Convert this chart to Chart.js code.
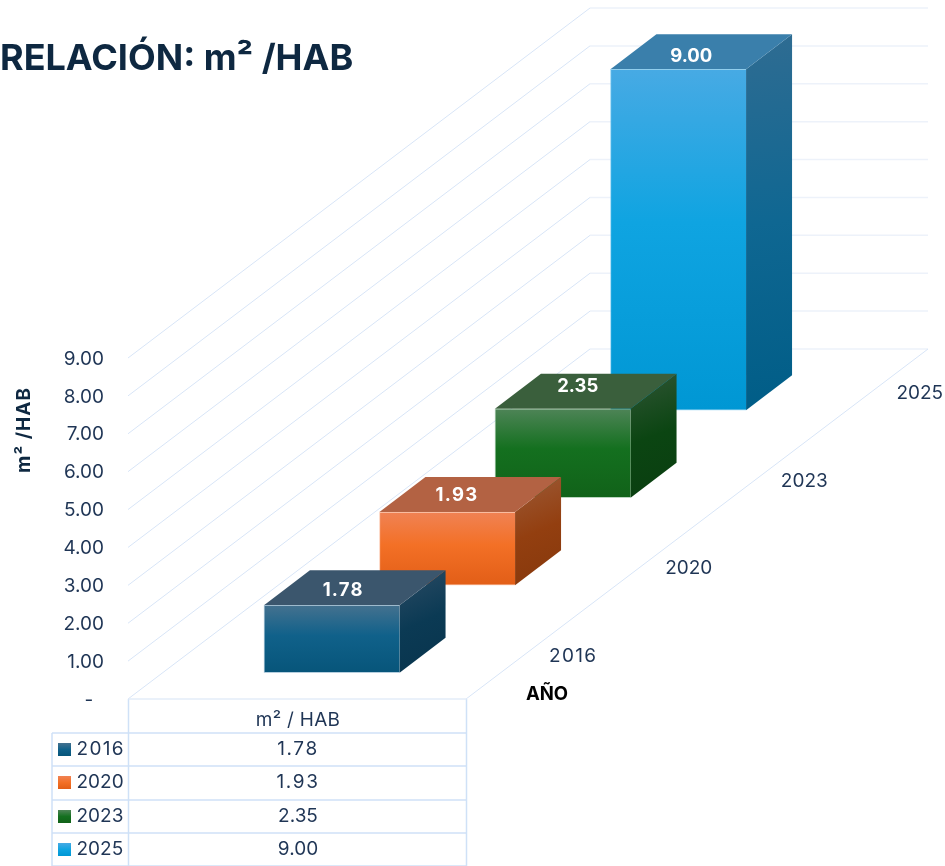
<!DOCTYPE html>
<html lang="es">
<head>
<meta charset="utf-8">
<title>RELACIÓN: m² /HAB</title>
<script src="https://cdn.jsdelivr.net/npm/chart.js@4"></script>
<style>
html,body{margin:0;padding:0;background:#fff;overflow:hidden}
canvas{display:block}
</style>
</head>
<body>
<canvas id="c" width="945" height="866"></canvas>
<script>
const categories = ['2016', '2020', '2023', '2025'];
const values = [1.78, 1.93, 2.35, 9.00];
const yTickLabels = ['-  ', '1.00', '2.00', '3.00', '4.00', '5.00', '6.00', '7.00', '8.00', '9.00'];
const chartTitle = 'RELACIÓN: m² /HAB';
const yAxisTitle = 'm² /HAB';
const xAxisTitle = 'AÑO';
const tableHeader = 'm² / HAB';

const frontStops = [
  ['#44718f', '#10618a', '#07557a'],
  ['#f08254', '#f37026', '#e25e17'],
  ['#4e8457', '#14701f', '#116219'],
  ['#47aae4', '#0fa4e1', '#0097d4']
];
const sideStops = [
  ['#2b4b64', '#0b3a54', '#08344d'],
  ['#9c5a37', '#933f10', '#86380c'],
  ['#305535', '#0b4512', '#0a3e10'],
  ['#2f6c92', '#0f6792', '#005d87']
];
const topColors = ['#3b566d', '#b36243', '#3a5f3c', '#3a7fab'];
const edgeColors = ['rgba(120,165,195,.55)', 'rgba(250,170,130,.55)', 'rgba(130,180,140,.55)', 'rgba(120,200,240,.7)'];
const labelNudgeX = [11.5, 9.7, 15, 13];
const labelNudgeY = [-15, -17, -22, -12.5];

const FONT = 'Inter, "Noto Sans", sans-serif';
const INK = '#1f3555';
const GRID = { depthX: 462, depthY: 350, floorW: 338, barDX: 46, barDY: 35 };

function placement(chart, bar) {
  const left = chart.chartArea.left;
  const depth = bar.x - left;
  return {
    dx: GRID.floorW / 2 - GRID.barDX / 2,
    dy: -depth * GRID.depthY / GRID.depthX + GRID.barDY / 2
  };
}

function spaced(ctx, s, amount) {
  ctx.letterSpacing = s.includes('1') ? amount + 'px' : '0px';
}

const prism3d = {
  id: 'prism3d',
  beforeDatasetsDraw(chart) {
    const { ctx, chartArea: a, scales: { y } } = chart;
    ctx.save();
    y.ticks.forEach((t) => {
      const py = y.getPixelForValue(t.value);
      ctx.lineWidth = 1;
      ctx.strokeStyle = '#d8e5f7';
      ctx.beginPath();
      ctx.moveTo(a.left, py);
      ctx.lineTo(a.left + GRID.depthX, py - GRID.depthY);
      ctx.stroke();
      ctx.lineWidth = 1.5;
      ctx.strokeStyle = '#edf2fa';
      ctx.beginPath();
      ctx.moveTo(a.left + GRID.depthX, py - GRID.depthY);
      ctx.lineTo(a.left + GRID.depthX + GRID.floorW, py - GRID.depthY);
      ctx.stroke();
    });
    const y0 = y.getPixelForValue(0);
    ctx.lineWidth = 1;
    ctx.strokeStyle = '#d8e5f7';
    ctx.beginPath();
    ctx.moveTo(a.left + GRID.floorW, y0);
    ctx.lineTo(a.left + GRID.floorW + GRID.depthX, y0 - GRID.depthY);
    ctx.stroke();
    ctx.restore();
  },
  beforeDatasetDraw(chart, args) {
    const bar = chart.getDatasetMeta(args.index).data[args.index];
    const { ctx } = chart;
    const p = placement(chart, bar);
    ctx.save();
    ctx.translate(p.dx, p.dy);
    const r = bar.x + bar.width / 2, l = bar.x - bar.width / 2;
    const t = bar.y, b = bar.base;
    const dX = GRID.barDX, dY = GRID.barDY;
    const side = ctx.createLinearGradient(r, t - dY, r + dX, b);
    sideStops[args.index].forEach((c, i) => side.addColorStop(i / 2, c));
    ctx.fillStyle = side;
    ctx.beginPath();
    ctx.moveTo(r, t); ctx.lineTo(r + dX, t - dY); ctx.lineTo(r + dX, b - dY); ctx.lineTo(r, b);
    ctx.closePath(); ctx.fill();
    ctx.fillStyle = topColors[args.index];
    ctx.beginPath();
    ctx.moveTo(l, t); ctx.lineTo(l + dX, t - dY); ctx.lineTo(r + dX, t - dY); ctx.lineTo(r, t);
    ctx.closePath(); ctx.fill();
  },
  afterDatasetDraw(chart, args) {
    const i = args.index;
    const bar = chart.getDatasetMeta(i).data[i];
    const { ctx } = chart;
    const s = values[i].toFixed(2);
    ctx.fillStyle = '#ffffff';
    ctx.font = 'bold 18.5px ' + FONT;
    ctx.textAlign = 'center';
    ctx.textBaseline = 'middle';
    spaced(ctx, s, 1.25);
    ctx.fillText(s, bar.x + labelNudgeX[i], bar.y + labelNudgeY[i]);
    ctx.letterSpacing = '0px';
    ctx.restore();
  },
  afterDraw(chart) {
    const { ctx, chartArea: a, scales: { x, y } } = chart;
    const y0 = y.getPixelForValue(0);
    ctx.save();
    ctx.textAlign = 'center';
    ctx.textBaseline = 'middle';

    ctx.fillStyle = INK;
    ctx.font = '19px ' + FONT;
    categories.forEach((c, i) => {
      const px = x.getPixelForValue(i);
      spaced(ctx, c, 1.3);
      ctx.fillText(c, px + 387.5, y0 - (px - a.left) * GRID.depthY / GRID.depthX + 1);
    });
    ctx.letterSpacing = '0px';

    ctx.fillStyle = '#000000';
    ctx.font = 'bold 18.5px ' + FONT;
    ctx.fillText(xAxisTitle, 547, 694);

    ctx.save();
    ctx.translate(24, 430);
    ctx.rotate(-Math.PI / 2);
    ctx.fillStyle = '#0e2841';
    ctx.font = 'bold 19px ' + FONT;
    ctx.letterSpacing = '1px';
    ctx.fillText(yAxisTitle, 0, 0);
    ctx.restore();

    const tl = 52, tc = 128.5, tr = 466.5, rows = [733, 766, 800, 833, 866];
    ctx.strokeStyle = '#cfe1f7';
    ctx.lineWidth = 1.5;
    ctx.beginPath();
    rows.forEach((ry) => { ctx.moveTo(tl, ry); ctx.lineTo(tr, ry); });
    ctx.moveTo(tl, 733); ctx.lineTo(tl, 866);
    ctx.moveTo(tc, y0); ctx.lineTo(tc, 866);
    ctx.moveTo(tr, y0); ctx.lineTo(tr, 866);
    ctx.stroke();
    ctx.strokeStyle = '#e3edf9';
    ctx.beginPath();
    ctx.moveTo(tc, y0); ctx.lineTo(tr, y0);
    ctx.stroke();

    ctx.fillStyle = INK;
    ctx.font = '19px ' + FONT;
    ctx.letterSpacing = '0.3px';
    ctx.fillText(tableHeader, 298, 720);
    ctx.letterSpacing = '0px';
    categories.forEach((c, i) => {
      const cy = rows[i] + 16;
      const g = ctx.createLinearGradient(0, cy - 6, 0, cy + 7);
      frontStops[i].forEach((col, k) => g.addColorStop(k / 2, col));
      ctx.fillStyle = g;
      ctx.fillRect(58, cy - 6, 13, 13);
      ctx.fillStyle = INK;
      ctx.textAlign = 'left';
      spaced(ctx, c, 1.3);
      ctx.fillText(c, 76.5, cy);
      ctx.textAlign = 'center';
      const s = values[i].toFixed(2);
      spaced(ctx, s, 1.6);
      ctx.fillText(s, 298, cy);
      ctx.letterSpacing = '0px';
    });
    ctx.restore();
  }
};

function frontGradient(context, i) {
  const chart = context.chart, y = chart.scales.y;
  if (!y || !chart.chartArea) return frontStops[i][1];
  const g = chart.ctx.createLinearGradient(0, y.getPixelForValue(values[i]), 0, y.getPixelForValue(0));
  g.addColorStop(0, frontStops[i][0]);
  g.addColorStop(0.45, frontStops[i][1]);
  g.addColorStop(1, frontStops[i][2]);
  return g;
}

new Chart(document.getElementById('c'), {
  type: 'bar',
  data: {
    labels: categories,
    datasets: categories.map((c, i) => ({
      label: c,
      data: categories.map((_, j) => (j === i ? values[i] : null)),
      backgroundColor: (ctx) => frontGradient(ctx, i),
      borderColor: edgeColors[i],
      borderWidth: 1,
      borderSkipped: 'right',
      barThickness: 135.6,
      grouped: false,
      clip: false
    }))
  },
  options: {
    responsive: false,
    animation: false,
    layout: { padding: { left: 0, right: 355, top: 0, bottom: 167 } },
    plugins: {
      legend: { display: false },
      tooltip: { enabled: false },
      title: {
        display: true,
        text: chartTitle,
        align: 'start',
        color: '#0e2841',
        font: { family: FONT, size: 36, weight: 'bold', lineHeight: 1.2 },
        padding: { top: 38, bottom: 276.8 }
      }
    },
    scales: {
      x: { display: false, offset: true, grid: { display: false } },
      y: {
        min: 0, max: 9,
        afterFit(scale) { scale.width = 128; },
        border: { display: false },
        grid: { display: false, drawTicks: false },
        ticks: {
          stepSize: 1,
          padding: 24,
          labelOffset: 1,
          color: INK,
          font: { family: FONT, size: 19 },
          callback: (v, i) => yTickLabels[i]
        }
      }
    }
  },
  plugins: [prism3d]
});
</script>
</body>
</html>
